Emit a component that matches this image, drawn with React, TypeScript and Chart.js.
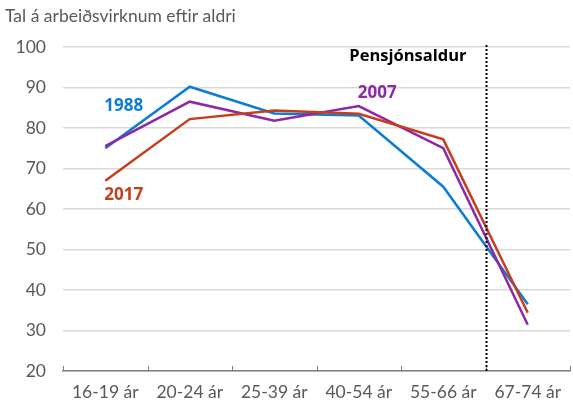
import React, { useEffect, useRef } from "react";
import { Chart, registerables } from "chart.js";

Chart.register(...registerables);

const categories = ["16-19 ár", "20-24 ár", "25-39 ár", "40-54 ár", "55-66 ár", "67-74 ár"];
const series1988 = [75.0, 90.2, 83.6, 83.1, 65.5, 36.5];
const series2007 = [75.5, 86.5, 81.8, 85.4, 75.0, 31.4];
const series2017 = [67.0, 82.2, 84.3, 83.5, 77.2, 34.4];
const yTicks = [20, 30, 40, 50, 60, 70, 80, 90, 100];

const titleText = "Tal á arbeiðsvirknum eftir aldri";
const retirementLabel = "Pensjónsaldur";
const retirementAt = 4.5; // boundary between 55-66 and 67-74

const BLUE = "#0d7dd4";
const PURPLE = "#8f28a4";
const RED = "#c73e1d";
const FONT = "Lato, sans-serif";
const BOLD_FONT = "'Open Sans', sans-serif";

// series labels: [text, category index (left of text), y value (middle), color]
const seriesLabels: [string, number, number, string][] = [
  ["1988", 0, 85.4, BLUE],
  ["2017", 0, 63.3, RED],
  ["2007", 3, 88.7, PURPLE],
];

const annotationPlugin = {
  id: "customAnnotations",
  afterDatasetsDraw(chart: any) {
    const { ctx, chartArea, scales } = chart;
    const x = scales.x;
    const y = scales.y;
    ctx.save();
    // inward tick marks on x axis at category boundaries
    ctx.strokeStyle = "#808080";
    ctx.lineWidth = 1;
    for (let i = 0; i <= categories.length; i++) {
      const tx = Math.round(x.getPixelForValue(i - 0.5)) + 0.5;
      ctx.beginPath();
      ctx.moveTo(tx, chartArea.bottom - 5);
      ctx.lineTo(tx, chartArea.bottom);
      ctx.stroke();
    }
    // dotted retirement line
    const lx = Math.round(x.getPixelForValue(retirementAt)) + 0.5;
    ctx.strokeStyle = "#000";
    ctx.lineWidth = 2;
    ctx.setLineDash([2, 2]);
    ctx.beginPath();
    ctx.moveTo(lx, chartArea.top - 2);
    ctx.lineTo(lx, chartArea.bottom);
    ctx.stroke();
    ctx.setLineDash([]);
    ctx.font = `bold 16.5px ${BOLD_FONT}`;
    ctx.fillStyle = "#000";
    ctx.textAlign = "right";
    ctx.textBaseline = "middle";
    ctx.fillText(retirementLabel, lx - 20, y.getPixelForValue(97.6));
    ctx.font = `bold 17px ${BOLD_FONT}`;
    for (const [t, ci, v, c] of seriesLabels) {
      ctx.fillStyle = c;
      ctx.textAlign = "left";
      ctx.fillText(t, x.getPixelForValue(ci) - 1, y.getPixelForValue(v));
    }
    ctx.restore();
  },
  afterDraw(chart: any) {
    const { ctx } = chart;
    ctx.save();
    ctx.font = `17.5px ${FONT}`;
    ctx.fillStyle = "#595959";
    ctx.textAlign = "left";
    ctx.textBaseline = "middle";
    ctx.fillText(titleText, 5, 16.5);
    ctx.restore();
  },
};

export default function App() {
  const ref = useRef<HTMLCanvasElement>(null);
  useEffect(() => {
    if (!ref.current) return;
    const mk = (label: string, data: number[], color: string) => ({
      label,
      data,
      borderColor: color,
      backgroundColor: color,
      borderWidth: 2.5,
      pointRadius: 0,
      tension: 0,
      fill: false,
    });
    const chart = new Chart(ref.current, {
      type: "line",
      data: {
        labels: categories,
        datasets: [
          mk("2017", series2017, RED),
          mk("2007", series2007, PURPLE),
          mk("1988", series1988, BLUE),
        ],
      },
      options: {
        animation: false,
        responsive: false,
        maintainAspectRatio: false,
        layout: { padding: { top: 47, right: 3, left: 0, bottom: 0 } },
        plugins: {
          legend: { display: false },
          title: { display: false },
          tooltip: { enabled: false },
        },
        scales: {
          x: {
            type: "category",
            offset: true,
            grid: {
              offset: true,
              drawOnChartArea: false,
              drawTicks: false,
            },
            border: { display: true, color: "#808080", width: 1.5 },
            ticks: {
              color: "#595959",
              font: { family: FONT, size: 17.5 },
              padding: 11,
              maxRotation: 0,
              autoSkip: false,
            },
            afterFit(s: any) {
              s.height = 32;
            },
          },
          y: {
            min: 20,
            max: 100,
            afterBuildTicks(s: any) {
              s.ticks = yTicks.map((v) => ({ value: v }));
            },
            grid: { color: "#d9d9d9", lineWidth: 1.5, drawTicks: false },
            border: { display: false },
            ticks: {
              color: "#595959",
              font: { family: FONT, size: 17.5 },
              padding: 17,
            },
            afterFit(s: any) {
              s.width = 63;
            },
          },
        },
      },
      plugins: [annotationPlugin],
    });
    return () => chart.destroy();
  }, []);
  return (
    <div style={{ position: "absolute", left: 0, top: 0, width: 573, height: 403, background: "#fff" }}>
      <canvas ref={ref} width={573} height={403} style={{ width: 573, height: 403 }} />
    </div>
  );
}
